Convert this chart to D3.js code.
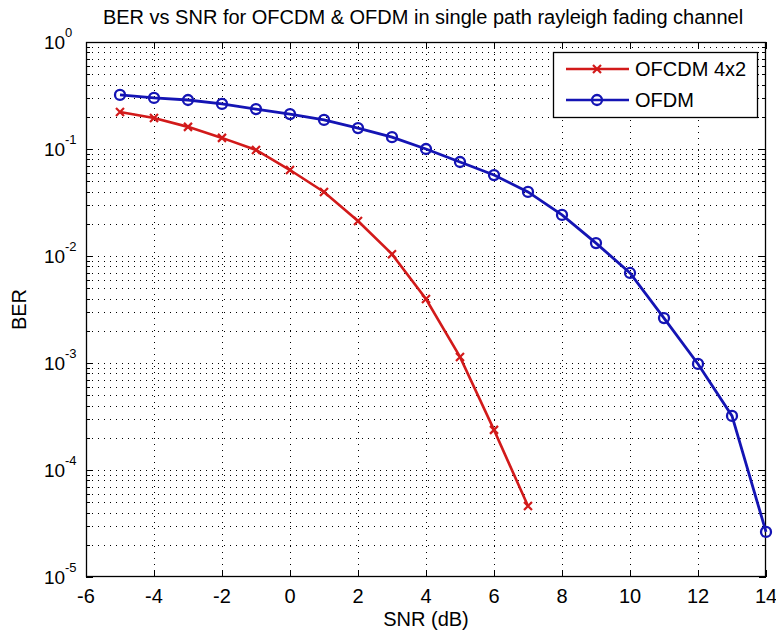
<!DOCTYPE html>
<html><head><meta charset="utf-8">
<script src="https://cdn.jsdelivr.net/npm/d3@7"></script>
<style>
body{margin:0;background:#fff;}
text{font-family:"Liberation Sans",Arial,Helvetica,sans-serif;fill:#000;}
</style></head>
<body><svg id="c" width="776" height="633"></svg>
<script>
const snrOFCDM = [-5,-4,-3,-2,-1,0,1,2,3,4,5,6,7];
const berOFCDM = [0.222,0.195,0.161,0.127,0.098,0.0636,0.0397,0.0212,0.0104,0.00396,0.00114,0.000237,0.000046];
const snrOFDM = [-5,-4,-3,-2,-1,0,1,2,3,4,5,6,7,8,9,10,11,12,13,14];
const berOFDM = [0.32,0.30,0.287,0.264,0.236,0.212,0.187,0.157,0.129,0.100,0.0756,0.0571,0.0397,0.0242,0.0132,0.00694,0.00263,0.00098,0.00032,0.0000264];
const xTicks = [-6,-4,-2,0,2,4,6,8,10,12,14];
const yExponents = [0,-1,-2,-3,-4,-5];
const seriesNames = ["OFCDM 4x2","OFDM"];
const titleText = "BER vs SNR for OFCDM & OFDM in single path rayleigh fading channel";
const xLabel = "SNR (dB)";
const yLabel = "BER";

const L=86,R=766,T=42,B=577;
const svg=d3.select("#c");
const x=d3.scaleLinear().domain([-6,14]).range([L,R]);
const y=d3.scaleLog().domain([1e-5,1]).range([B,T]);

svg.append("rect").attr("x",L).attr("y",T).attr("width",R-L).attr("height",B-T).attr("fill","#fff");

// grid
const g=svg.append("g").attr("stroke","#000").attr("stroke-width",1).attr("stroke-dasharray","1,5").attr("shape-rendering","crispEdges");
xTicks.slice(1,-1).forEach(t=>{g.append("line").attr("x1",Math.round(x(t))+.5).attr("x2",Math.round(x(t))+.5).attr("y1",T).attr("y2",B);});
const minor=[];
for(let e=-5;e<0;e++){for(let m=1;m<=9;m++){const v=m*Math.pow(10,e); if(v>1e-5) minor.push(v);}}
minor.forEach(v=>{g.append("line").attr("x1",L).attr("x2",R).attr("y1",Math.round(y(v))+.5).attr("y2",Math.round(y(v))+.5);});

// ticks
const tk=svg.append("g").attr("stroke","#000").attr("stroke-width",1).attr("shape-rendering","crispEdges");
xTicks.forEach(t=>{const px=Math.round(x(t))+.5;
 tk.append("line").attr("x1",px).attr("x2",px).attr("y1",B).attr("y2",B-7);
 tk.append("line").attr("x1",px).attr("x2",px).attr("y1",T).attr("y2",T+7);});
yExponents.forEach(e=>{const py=Math.round(y(Math.pow(10,e)))+.5;
 tk.append("line").attr("x1",L).attr("x2",L+7).attr("y1",py).attr("y2",py);
 tk.append("line").attr("x1",R).attr("x2",R-7).attr("y1",py).attr("y2",py);});
minor.forEach(v=>{const py=Math.round(y(v))+.5;
 tk.append("line").attr("x1",L).attr("x2",L+4).attr("y1",py).attr("y2",py);
 tk.append("line").attr("x1",R).attr("x2",R-4).attr("y1",py).attr("y2",py);});

// box
svg.append("rect").attr("x",L+.5).attr("y",T+.5).attr("width",R-L-1).attr("height",B-T-1).attr("fill","none").attr("stroke","#000").attr("stroke-width",1.3);

// tick labels
xTicks.forEach(t=>{svg.append("text").attr("x",x(t)).attr("y",B+26).attr("text-anchor","middle").attr("font-size",20).text(t<0?"-"+Math.abs(t):t);});
yExponents.forEach(e=>{const py=y(Math.pow(10,e));
 const tx=svg.append("text").attr("font-size",19);
 tx.append("tspan").attr("x",44).attr("y",py+7).text("10");
 tx.append("tspan").attr("x",65).attr("y",py-5).attr("font-size",13).text(e<0?"-"+Math.abs(e):e);});

svg.append("text").attr("x",(L+R)/2 - 3).attr("y",24).attr("text-anchor","middle").attr("font-size",20).text(titleText);
svg.append("text").attr("x",(L+R)/2).attr("y",626).attr("text-anchor","middle").attr("font-size",20).text(xLabel);
svg.append("text").attr("transform",`translate(26,${(T+B)/2}) rotate(-90)`).attr("text-anchor","middle").attr("font-size",20).text(yLabel);

// series
const red="#d21a1a", blue="#1414b4";
const line=d3.line().x(d=>x(d[0])).y(d=>y(d[1]));
const d1=snrOFCDM.map((s,i)=>[s,berOFCDM[i]]);
const d2=snrOFDM.map((s,i)=>[s,berOFDM[i]]);
svg.append("path").attr("d",line(d1)).attr("fill","none").attr("stroke",red).attr("stroke-width",2.6);
svg.append("path").attr("d",line(d2)).attr("fill","none").attr("stroke",blue).attr("stroke-width",2.8);
function cross(gp,cx,cy,c){gp.append("path").attr("d",`M${cx-4},${cy-4}L${cx+4},${cy+4}M${cx-4},${cy+4}L${cx+4},${cy-4}`).attr("stroke",c).attr("stroke-width",2.2);}
const m1=svg.append("g");
d1.forEach(d=>cross(m1,x(d[0]),y(d[1]),red));
const m2=svg.append("g");
d2.forEach(d=>m2.append("circle").attr("cx",x(d[0])).attr("cy",y(d[1])).attr("r",5).attr("fill","none").attr("stroke",blue).attr("stroke-width",2.3));

// legend
const lg=svg.append("g");
lg.append("rect").attr("x",553.5).attr("y",52.5).attr("width",204).attr("height",65).attr("fill","#fff").attr("stroke","#000").attr("stroke-width",1.3);
[[red,69],[blue,100]].forEach((r,i)=>{
 lg.append("line").attr("x1",566).attr("x2",629).attr("y1",r[1]).attr("y2",r[1]).attr("stroke",r[0]).attr("stroke-width",2.6);
 if(i===0) cross(lg,597,r[1],red); else lg.append("circle").attr("cx",597).attr("cy",r[1]).attr("r",5).attr("fill","none").attr("stroke",blue).attr("stroke-width",2.3);
 lg.append("text").attr("x",635).attr("y",r[1]+7).attr("font-size",20).text(seriesNames[i]);
});
</script></body></html>
